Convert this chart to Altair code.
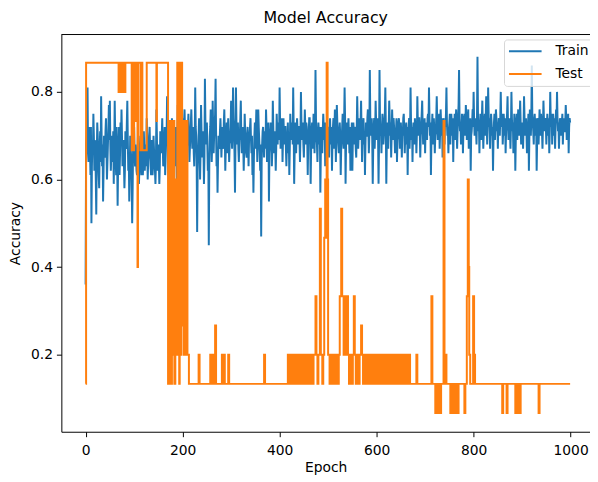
import altair as alt
import pandas as pd

# Train accuracy for epochs 0..999 (one row = 50 epochs)
train_vals = [
    0.36,0.68,0.70,0.74,0.81,0.66,0.64,0.70,0.72,0.67,0.61,0.72,0.50,0.63,0.69,0.66,0.75,0.70,0.62,0.69,0.68,0.60,0.52,0.65,0.73,0.70,0.66,0.61,0.58,0.67,0.71,0.64,0.79,0.70,0.63,0.68,0.55,0.62,0.70,0.66,0.65,0.71,0.74,0.67,0.60,0.64,0.68,0.72,0.77,0.69,
    0.78,0.68,0.62,0.66,0.70,0.64,0.66,0.71,0.59,0.67,0.78,0.70,0.64,0.61,0.72,0.66,0.54,0.63,0.68,0.72,0.61,0.66,0.73,0.69,0.76,0.70,0.63,0.67,0.69,0.64,0.58,0.62,0.71,0.68,0.67,0.73,0.78,0.69,0.62,0.66,0.55,0.61,0.70,0.67,0.65,0.60,0.50,0.58,0.68,0.64,
    0.72,0.66,0.63,0.68,0.66,0.62,0.61,0.65,0.70,0.64,0.59,0.63,0.67,0.70,0.64,0.61,0.69,0.66,0.61,0.64,0.71,0.67,0.62,0.65,0.68,0.63,0.74,0.69,0.60,0.64,0.66,0.70,0.72,0.67,0.63,0.61,0.69,0.65,0.61,0.63,0.70,0.67,0.65,0.62,0.59,0.64,0.76,0.70,0.62,0.66,
    0.68,0.64,0.59,0.63,0.71,0.67,0.66,0.70,0.74,0.68,0.63,0.66,0.69,0.72,0.61,0.65,0.72,0.70,0.79,0.71,0.64,0.61,0.58,0.64,0.71,0.68,0.66,0.62,0.74,0.69,0.57,0.63,0.68,0.71,0.63,0.67,0.72,0.69,0.60,0.66,0.77,0.72,0.68,0.74,0.73,0.70,0.79,0.72,0.67,0.71,
    0.74,0.70,0.69,0.73,0.76,0.71,0.66,0.69,0.72,0.68,0.68,0.72,0.75,0.70,0.64,0.67,0.70,0.73,0.76,0.71,0.67,0.70,0.72,0.66,0.63,0.69,0.81,0.72,0.70,0.64,0.48,0.62,0.66,0.70,0.74,0.69,0.60,0.66,0.77,0.71,0.65,0.69,0.71,0.67,0.59,0.65,0.83,0.73,0.68,0.71,
    0.73,0.68,0.62,0.66,0.45,0.63,0.70,0.72,0.76,0.70,0.64,0.68,0.78,0.72,0.66,0.70,0.72,0.75,0.83,0.71,0.63,0.67,0.57,0.64,0.70,0.68,0.67,0.71,0.74,0.70,0.65,0.69,0.72,0.67,0.68,0.73,0.76,0.70,0.62,0.67,0.70,0.73,0.66,0.70,0.74,0.69,0.64,0.68,0.69,0.72,
    0.78,0.71,0.67,0.72,0.81,0.74,0.71,0.66,0.57,0.69,0.81,0.73,0.68,0.70,0.73,0.67,0.64,0.69,0.70,0.74,0.78,0.70,0.66,0.71,0.72,0.68,0.62,0.67,0.75,0.71,0.69,0.66,0.65,0.70,0.72,0.68,0.63,0.69,0.70,0.72,0.74,0.69,0.66,0.70,0.61,0.66,0.57,0.65,0.70,0.73,
    0.67,0.71,0.76,0.70,0.64,0.69,0.76,0.72,0.69,0.66,0.62,0.68,0.47,0.64,0.68,0.71,0.72,0.69,0.65,0.70,0.71,0.67,0.76,0.72,0.64,0.68,0.70,0.73,0.55,0.66,0.68,0.71,0.73,0.70,0.63,0.67,0.78,0.72,0.66,0.70,0.71,0.68,0.62,0.67,0.75,0.71,0.68,0.73,0.72,0.69,
    0.81,0.73,0.67,0.71,0.70,0.74,0.64,0.69,0.74,0.70,0.68,0.72,0.72,0.67,0.63,0.68,0.70,0.73,0.66,0.70,0.61,0.67,0.75,0.71,0.69,0.72,0.73,0.68,0.81,0.72,0.59,0.66,0.70,0.73,0.66,0.70,0.74,0.71,0.68,0.72,0.72,0.69,0.64,0.70,0.80,0.73,0.69,0.71,0.73,0.68,
    0.65,0.70,0.76,0.72,0.68,0.73,0.72,0.69,0.61,0.68,0.70,0.74,0.74,0.70,0.59,0.67,0.71,0.73,0.67,0.70,0.75,0.72,0.66,0.71,0.85,0.74,0.70,0.68,0.64,0.70,0.73,0.71,0.68,0.72,0.57,0.66,0.72,0.70,0.66,0.71,0.75,0.72,0.69,0.73,0.63,0.68,0.73,0.70,0.67,0.72,
    0.71,0.68,0.65,0.71,0.74,0.70,0.68,0.72,0.62,0.69,0.72,0.74,0.67,0.71,0.76,0.72,0.64,0.70,0.77,0.73,0.70,0.68,0.66,0.71,0.73,0.70,0.61,0.67,0.69,0.72,0.75,0.71,0.67,0.73,0.81,0.74,0.59,0.68,0.71,0.73,0.68,0.71,0.74,0.70,0.66,0.72,0.62,0.68,0.70,0.73,
    0.62,0.69,0.73,0.71,0.68,0.72,0.71,0.67,0.65,0.71,0.79,0.73,0.67,0.70,0.74,0.72,0.69,0.73,0.78,0.71,0.64,0.69,0.72,0.74,0.68,0.71,0.61,0.68,0.73,0.70,0.70,0.74,0.76,0.72,0.66,0.70,0.85,0.74,0.70,0.72,0.74,0.69,0.59,0.67,0.72,0.74,0.67,0.71,0.78,0.73,
    0.69,0.72,0.74,0.70,0.59,0.68,0.85,0.74,0.70,0.72,0.66,0.71,0.75,0.73,0.68,0.70,0.72,0.75,0.81,0.72,0.59,0.68,0.73,0.71,0.67,0.72,0.78,0.74,0.70,0.73,0.65,0.70,0.76,0.72,0.69,0.74,0.72,0.70,0.66,0.71,0.71,0.74,0.64,0.69,0.70,0.73,0.74,0.71,0.67,0.72,
    0.73,0.70,0.65,0.71,0.70,0.74,0.75,0.71,0.66,0.70,0.71,0.73,0.68,0.72,0.61,0.69,0.72,0.74,0.67,0.71,0.81,0.73,0.69,0.72,0.64,0.70,0.73,0.71,0.68,0.74,0.71,0.72,0.66,0.70,0.79,0.73,0.70,0.74,0.74,0.71,0.65,0.70,0.72,0.75,0.78,0.72,0.68,0.71,0.71,0.74,
    0.66,0.72,0.73,0.71,0.69,0.74,0.75,0.72,0.81,0.74,0.70,0.73,0.61,0.69,0.72,0.75,0.68,0.72,0.74,0.71,0.66,0.70,0.71,0.74,0.79,0.73,0.69,0.72,0.73,0.75,0.67,0.71,0.76,0.73,0.70,0.74,0.65,0.71,0.74,0.72,0.68,0.73,0.72,0.75,0.81,0.73,0.70,0.72,0.66,0.71,
    0.73,0.75,0.68,0.72,0.75,0.73,0.70,0.74,0.64,0.71,0.72,0.75,0.69,0.73,0.76,0.72,0.67,0.71,0.74,0.77,0.85,0.74,0.71,0.73,0.68,0.72,0.75,0.74,0.66,0.71,0.73,0.75,0.70,0.72,0.77,0.74,0.69,0.72,0.74,0.76,0.67,0.71,0.72,0.74,0.62,0.70,0.71,0.73,0.76,0.72,
    0.80,0.74,0.70,0.73,0.74,0.71,0.68,0.74,0.88,0.75,0.71,0.73,0.66,0.72,0.75,0.73,0.69,0.74,0.78,0.72,0.67,0.71,0.73,0.75,0.70,0.74,0.79,0.73,0.68,0.72,0.81,0.75,0.72,0.74,0.67,0.71,0.75,0.73,0.70,0.72,0.62,0.69,0.73,0.75,0.69,0.72,0.76,0.74,0.71,0.73,
    0.67,0.72,0.74,0.71,0.70,0.74,0.80,0.73,0.72,0.75,0.68,0.71,0.75,0.73,0.70,0.74,0.66,0.71,0.73,0.75,0.79,0.72,0.69,0.73,0.74,0.71,0.67,0.72,0.80,0.74,0.71,0.73,0.66,0.70,0.75,0.73,0.62,0.69,0.72,0.75,0.69,0.73,0.76,0.72,0.70,0.74,0.78,0.73,0.68,0.72,
    0.73,0.71,0.67,0.72,0.79,0.74,0.70,0.73,0.74,0.71,0.66,0.72,0.72,0.75,0.62,0.70,0.76,0.73,0.70,0.74,0.86,0.75,0.73,0.71,0.68,0.73,0.75,0.72,0.70,0.74,0.62,0.69,0.72,0.74,0.68,0.72,0.76,0.73,0.70,0.75,0.73,0.71,0.67,0.72,0.78,0.74,0.71,0.73,0.74,0.72,
    0.68,0.72,0.75,0.73,0.70,0.74,0.66,0.71,0.80,0.74,0.72,0.75,0.68,0.72,0.75,0.73,0.70,0.74,0.67,0.72,0.76,0.73,0.80,0.74,0.71,0.73,0.67,0.71,0.74,0.72,0.70,0.74,0.73,0.75,0.68,0.72,0.74,0.71,0.71,0.73,0.77,0.74,0.69,0.72,0.73,0.75,0.66,0.72,0.74,0.73,
]
train_epochs = list(range(1000))

# Test accuracy: epochs where the value changes, and the value held from there
test_epochs = [
    0, 1, 68, 70, 71, 73, 74, 76, 77, 79, 80, 82, 95, 96, 99, 100, 104, 107, 108, 113, 114, 117, 126, 146, 147,
    170, 172, 173, 175, 177, 178, 180, 181, 183, 185, 186, 187, 189, 190, 191, 193, 194, 196, 197, 199, 200, 202, 203, 205, 206, 207, 208, 210, 213,
    233, 235, 257, 259, 262, 264, 267, 269, 281, 283, 285, 287, 294, 296, 368, 370,
    417, 419, 421, 423, 426, 428, 431, 433, 437, 440, 442, 445, 447, 449, 452, 455, 458, 461, 464, 466,
    470, 474, 476, 478, 480, 483, 485, 488, 490, 492, 494, 496, 497, 499, 500, 503, 506, 508, 512, 514, 517, 519,
    522, 524, 527, 529, 532, 534, 537, 539, 541, 543, 546, 548, 551, 553, 555, 557, 560, 562, 565, 568, 570, 572,
    575, 577, 581, 583, 586, 588, 592, 594, 597, 599, 603, 605, 609, 611, 614, 616, 620, 622, 626, 628, 632, 634,
    637, 639, 643, 645, 649, 651, 655, 657, 661, 663, 667, 669,
    682, 684, 713, 715, 721, 723, 725, 727, 731, 733, 738, 740, 742, 744, 752, 754, 757, 759, 762, 764, 767, 769,
    781, 783, 786, 788, 790, 791, 793, 799, 801, 803, 859, 861, 868, 870, 886, 888, 891, 893, 895, 897, 934, 936, 999,
]
test_vals = [
    0.1333, 0.8667, 0.8, 0.8667, 0.8, 0.8667, 0.8, 0.8667, 0.8, 0.8667, 0.8, 0.8667, 0.6667, 0.8667, 0.6667, 0.8667, 0.7333, 0.4, 0.8667, 0.6667, 0.8667, 0.6667, 0.8667, 0.7333, 0.8667,
    0.1333, 0.7333, 0.1333, 0.7333, 0.1333, 0.7333, 0.2, 0.7333, 0.1333, 0.2, 0.6, 0.2, 0.8667, 0.2, 0.8667, 0.1333, 0.8667, 0.2, 0.8667, 0.2667, 0.7333, 0.2, 0.7333, 0.2, 0.6, 0.2, 0.7333, 0.2, 0.1333,
    0.2, 0.1333, 0.2, 0.1333, 0.2, 0.1333, 0.2667, 0.1333, 0.2, 0.1333, 0.2, 0.1333, 0.2, 0.1333, 0.2, 0.1333,
    0.2, 0.1333, 0.2, 0.1333, 0.2, 0.1333, 0.2, 0.1333, 0.2, 0.1333, 0.2, 0.1333, 0.2, 0.1333, 0.2, 0.1333, 0.2, 0.1333, 0.2, 0.1333,
    0.2, 0.3333, 0.2, 0.1333, 0.2, 0.5333, 0.2, 0.1333, 0.2, 0.4667, 0.6, 0.4667, 0.8667, 0.6, 0.2, 0.1333, 0.2, 0.1333, 0.2, 0.1333, 0.2, 0.1333,
    0.2, 0.3333, 0.5333, 0.3333, 0.2, 0.3333, 0.2, 0.3333, 0.2, 0.1333, 0.2, 0.1333, 0.2, 0.3333, 0.2, 0.1333, 0.2, 0.1333, 0.2, 0.2667, 0.2, 0.1333,
    0.2, 0.1333, 0.2, 0.1333, 0.2, 0.1333, 0.2, 0.1333, 0.2, 0.1333, 0.2, 0.1333, 0.2, 0.1333, 0.2, 0.1333, 0.2, 0.1333, 0.2, 0.1333, 0.2, 0.1333,
    0.2, 0.1333, 0.2, 0.1333, 0.2, 0.1333, 0.2, 0.1333, 0.2, 0.1333, 0.2, 0.1333,
    0.2, 0.1333, 0.3333, 0.1333, 0.0667, 0.1333, 0.0667, 0.1333, 0.0667, 0.1333, 0.7333, 0.1333, 0.2, 0.1333, 0.0667, 0.1333, 0.0667, 0.1333, 0.0667, 0.1333, 0.0667, 0.1333,
    0.0667, 0.1333, 0.3333, 0.6, 0.4, 0.2, 0.1333, 0.3333, 0.2, 0.1333, 0.0667, 0.1333, 0.0667, 0.1333, 0.0667, 0.1333, 0.0667, 0.1333, 0.0667, 0.1333, 0.0667, 0.1333, 0.1333,
]

series_names = ["Train", "Test"]
series_colors = ["#1f77b4", "#ff7f0e"]
x_ticks = [0, 200, 400, 600, 800, 1000]
y_ticks = [0.2, 0.4, 0.6, 0.8]

train_df = pd.DataFrame({"epoch": train_epochs, "acc": train_vals, "series": "Train"})
test_df = pd.DataFrame({"epoch": test_epochs, "acc": test_vals, "series": "Test"})

W, H = 535, 402
FONT = "DejaVu Sans"

x_enc = alt.X(
    "epoch:Q",
    scale=alt.Scale(domain=[-50, 1040], nice=False, zero=False),
    axis=alt.Axis(values=x_ticks, title="Epoch", grid=False, format="d"),
)
y_enc = alt.Y(
    "acc:Q",
    scale=alt.Scale(domain=[0.024, 0.931], nice=False, zero=False),
    axis=alt.Axis(values=y_ticks, title="Accuracy", grid=False, format=".1f"),
)
color_enc = alt.Color(
    "series:N",
    scale=alt.Scale(domain=series_names, range=series_colors),
    legend=alt.Legend(
        title=None,
        orient="none",
        legendX=448,
        legendY=5,
        symbolType="stroke",
        symbolSize=1089,
        symbolStrokeWidth=2,
        clipHeight=16,
        labelFontSize=14,
        labelFont=FONT,
        labelColor="#000000",
        labelOffset=13,
        fillColor="rgba(255,255,255,0.8)",
        strokeColor="#d6d6d6",
        cornerRadius=3,
        padding=4,
        rowPadding=7,
    ),
)

train_line = alt.Chart(train_df).mark_line(strokeWidth=2).encode(x=x_enc, y=y_enc, color=color_enc)
test_line = alt.Chart(test_df).mark_line(strokeWidth=2, interpolate="step-after").encode(
    x=x_enc, y=y_enc, color=color_enc
)
top_border = alt.Chart(pd.DataFrame({"a": [0]})).mark_rule(color="#000000", strokeWidth=1).encode(
    x=alt.value(0), x2=alt.value(W), y=alt.value(0)
)

chart = (
    alt.layer(train_line, test_line, top_border)
    .properties(
        width=W,
        height=H,
        autosize=alt.AutoSizeParams(type="none"),
        padding={"left": 54, "top": 24, "right": 0, "bottom": 46},
        title=alt.TitleParams(
            "Model Accuracy", fontSize=16, font=FONT, fontWeight="normal", color="#000000", offset=8
        ),
    )
    .configure_view(stroke=None)
    .configure_axis(
        domainColor="#000000",
        domainWidth=1,
        tickColor="#000000",
        tickSize=5,
        labelPadding=7,
        labelFont=FONT,
        labelFontSize=14,
        labelColor="#000000",
        titleFont=FONT,
        titleFontSize=14,
        titleFontWeight="normal",
        titleColor="#000000",
    )
    .configure_axisX(titlePadding=3)
    .configure_axisY(labelPadding=4, titlePadding=8)
)

chart.save("out.html", embed_options={"renderer": "svg", "actions": False})
